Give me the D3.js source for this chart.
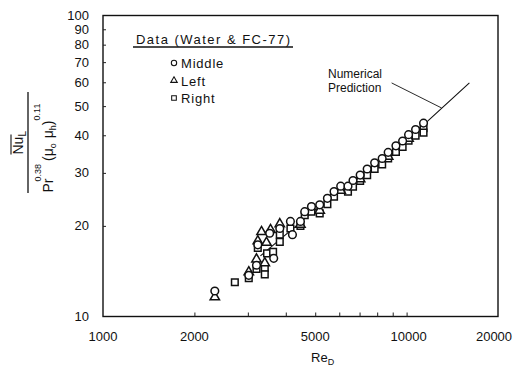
<!DOCTYPE html>
<html><head><meta charset="utf-8">
<script src="https://cdn.jsdelivr.net/npm/d3@7"></script>
<style>
html,body{margin:0;padding:0;background:#fff;}
svg{display:block;font-family:"Liberation Sans",Arial,sans-serif;}
</style></head>
<body>
<svg id="c" width="528" height="373"></svg>
<script>
// ---- data (Re_D, Nu_L / (Pr^0.38 (mu_o/mu_h)^0.11)) ----
const middle = [[2335,12.15],[3021,13.7],[3203,14.8],[3235,17.3],[3650,15.6],[3540,18.9],[3822,19.6],
 [4143,20.7],[4207,18.7],[4470,20.7],[4618,22.3],[4860,23.2],[5174,23.5],[5484,24.7],[5767,26.0],
 [6066,27.1],[6411,27.1],[6660,28.3],[7031,29.5],[7415,30.9],[7847,32.4],[8308,33.5],[8694,35.1],
 [9222,36.9],[9702,38.3],[10150,40.2],[10705,41.8],[11370,43.9]];
const left = [[2335,11.6],[3021,14.05],[3203,15.5],[3411,15.05],[3235,17.8],[3327,19.1],[3455,17.6],
 [3562,19.4],[3822,20.3],[4470,20.2],[5174,22.5],[6066,26.2],[7031,28.6],[8694,34.0],[10150,39.0]];
const right = [[2718,13.0],[3021,13.4],[3203,14.4],[3411,14.5],[3411,13.8],[3235,16.9],[3470,16.2],
 [3633,16.4],[3822,18.7],[3822,17.7],[4143,19.6],[4470,20.0],[4618,21.7],[4860,22.3],[5174,22.0],
 [5484,23.6],[5767,25.0],[6411,26.0],[6660,27.0],[7031,28.2],[7415,29.5],[7847,30.9],[8308,32.0],
 [8694,33.5],[9222,35.2],[9702,36.6],[10150,38.4],[10705,39.9],[11370,42.2],[11370,40.8]];
const prediction = [[3300,15.9],[5000,22.6],[8000,32.2],[11730,44.6],[16100,59.7]];
const leader = [[8927,59.7],[13035,49.3]];
const xTickLabels = [1000,2000,5000,10000,20000];
const xMinorTicks = [2000,3000,4000,5000,6000,7000,8000,9000,10000];
const yTickLabels = [10,20,30,40,50,60,70,80,90,100];
const yMinorTicks = [20,30,40,50,60,70,80,90];
const legendItems = [{name:"Middle",sym:"circle"},{name:"Left",sym:"triangle"},{name:"Right",sym:"square"}];

const svg = d3.select("#c");
const x = d3.scaleLog().domain([1000,20000]).range([103,498]);
const y = d3.scaleLog().domain([10,100]).range([316.5,15.5]);

const symType = {circle:d3.symbolCircle, triangle:d3.symbolTriangle, square:d3.symbolSquare};
const symSize = {circle:46, triangle:38, square:44};
const sym = k => d3.symbol().type(symType[k]).size(symSize[k])();

// frame
svg.append("rect").attr("x",x(1000)).attr("y",y(100)).attr("width",x(20000)-x(1000)).attr("height",y(10)-y(100))
  .attr("fill","none").attr("stroke","#111").attr("stroke-width",1.4);

// inward ticks
svg.append("g").attr("transform",`translate(0,${y(10)})`)
  .call(d3.axisBottom(x).tickValues(xMinorTicks).tickSize(-4).tickFormat(""))
  .call(g=>{g.select(".domain").remove(); g.selectAll("line").attr("stroke","#222").attr("stroke-width",1);});
svg.append("g").attr("transform",`translate(${x(1000)},0)`)
  .call(d3.axisLeft(y).tickValues(yMinorTicks).tickSize(-3).tickFormat(""))
  .call(g=>{g.select(".domain").remove(); g.selectAll("line").attr("stroke","#222").attr("stroke-width",1);});

// tick labels
svg.append("g").selectAll("text").data(xTickLabels).join("text")
  .attr("x",d=>x(d)+(d===20000?-4:(d===10000?2:0))).attr("y",341).attr("text-anchor","middle")
  .attr("font-size",13).attr("fill","#111").text(d=>d);
svg.append("g").selectAll("text").data(yTickLabels).join("text")
  .attr("x",89).attr("y",d=>y(d)+4.5).attr("text-anchor","end")
  .attr("font-size",13).attr("fill","#111").text(d=>d);

// prediction line
const line = d3.line().x(d=>x(d[0])).y(d=>y(d[1]));
svg.append("path").attr("d",line(prediction)).attr("fill","none").attr("stroke","#111").attr("stroke-width",1.1);
svg.append("path").attr("d",line(leader)).attr("fill","none").attr("stroke","#111").attr("stroke-width",0.9);

// markers
function drawSeries(data,k){
  svg.append("g").selectAll("path").data(data).join("path")
    .attr("transform",d=>`translate(${x(d[0])},${y(d[1])})`)
    .attr("d",sym(k)).attr("fill","#fff").attr("stroke","#111").attr("stroke-width",1.5);
}
drawSeries(right,"square");
drawSeries(left,"triangle");
drawSeries(middle,"circle");

// annotation
svg.append("text").attr("x",328).attr("y",78).attr("font-size",12).attr("fill","#111").text("Numerical");
svg.append("text").attr("x",328).attr("y",92).attr("font-size",12).attr("fill","#111").text("Prediction");

// legend
svg.append("text").attr("x",136).attr("y",44).attr("font-size",13).attr("fill","#111")
  .attr("textLength",154).attr("lengthAdjust","spacing").text("Data (Water & FC-77)");
svg.append("line").attr("x1",133).attr("x2",293).attr("y1",47).attr("y2",47).attr("stroke","#111").attr("stroke-width",1.3);
const lg = svg.append("g").selectAll("g").data(legendItems).join("g")
  .attr("transform",(d,i)=>`translate(174,${63+i*17.5})`);
lg.append("path").attr("d",d=>sym(d.sym)).attr("transform","scale(0.7)")
  .attr("fill","#fff").attr("stroke","#111").attr("stroke-width",1.5);
lg.append("text").attr("x",7).attr("y",5).attr("font-size",13).attr("fill","#111")
  .attr("letter-spacing",0.8).text(d=>d.name);

// x axis title
const xt = svg.append("text").attr("x",311).attr("y",362).attr("font-size",13).attr("fill","#111");
xt.append("tspan").text("Re");
xt.append("tspan").attr("font-size",9).attr("dy",3).text("D");

// y axis title (fraction, rotated)
const yg = svg.append("g").attr("transform","translate(28,142.5) rotate(-90)");
yg.append("line").attr("x1",-50.5).attr("x2",50.5).attr("y1",0).attr("y2",0).attr("stroke","#111").attr("stroke-width",1.3);
const num = yg.append("text").attr("x",-12).attr("y",-5).attr("font-size",14).attr("fill","#111");
num.append("tspan").text("Nu");
num.append("tspan").attr("font-size",10).attr("dy",3).text("L");
yg.append("line").attr("x1",-12).attr("x2",8).attr("y1",-17).attr("y2",-17).attr("stroke","#111").attr("stroke-width",1.1);
const den = yg.append("text").attr("x",-50).attr("y",25).attr("font-size",14).attr("fill","#111");
den.append("tspan").text("Pr");
den.append("tspan").attr("font-size",9).attr("dy",-12).attr("dx",-3).text("0.38");
den.append("tspan").attr("dy",12).attr("dx",3).text("(μ");
den.append("tspan").attr("font-size",9).attr("dy",3).text("o");
den.append("tspan").attr("dy",-3).attr("dx",5).text("μ");
den.append("tspan").attr("font-size",9).attr("dy",3).text("h");
den.append("tspan").attr("dy",-3).text(")");
den.append("tspan").attr("font-size",9).attr("dy",-13).text("0.11");
</script>
</body></html>
